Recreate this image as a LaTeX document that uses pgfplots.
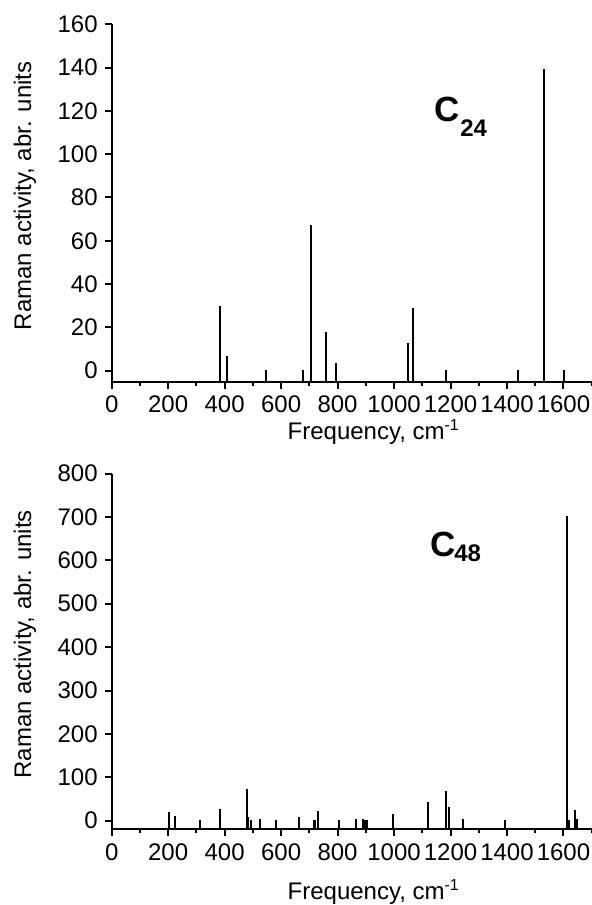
\documentclass[border=0pt]{standalone}
\usepackage{fontspec}
\setmainfont{Liberation Sans}
\usepackage{pgfplots}
\pgfplotsset{compat=1.18}
\pgfplotsset{
  ramanstyle/.style={
    scale only axis, width=240pt,
    xmin=0, xmax=1700,
    axis x line=bottom, axis y line=left,
    axis line style={-, line width=1pt, black},
    tick align=outside,
    major tick length=3.5pt, minor tick length=2pt,
    every tick/.style={line width=1pt, black},
    xtick={0,200,...,1600}, minor xtick={100,300,...,1700},
    tick label style={font=\fontsize{12}{14}\selectfont},
    /pgf/number format/assume math mode=true,
    /pgf/number format/set thousands separator={},
    unbounded coords=jump,
    every axis y label/.style={at={(axis description cs:-0.1806,0.52)}, rotate=90, anchor=center, font=\fontsize{12}{14}\selectfont},
    ylabel={Raman activity, abr. units},
    xlabel={Frequency, cm\textsuperscript{-1}},
  },
  stick/.style={black, line width=1pt, no marks},
}
\begin{document}
\begin{tikzpicture}
\begin{axis}[ramanstyle, name=top, at={(0pt,0pt)}, anchor=north west,
  height=178.6pt, ymin=-5, ymax=160, ytick={0,20,...,160},
  every axis x label/.style={at={(axis description cs:0.546,0)}, anchor=base, yshift=-29pt, font=\fontsize{12}{14}\selectfont},
]
\addplot[stick] table {
x y
384 -5
384 30
384 nan
407 -5
407 7
407 nan
548 -5
548 0.5
548 nan
678 -5
678 0.5
678 nan
705 -5
705 67.5
705 nan
759 -5
759 18
759 nan
795 -5
795 3.5
795 nan
1048 -5
1048 13
1048 nan
1066 -5
1066 29
1066 nan
1184 -5
1184 0.5
1184 nan
1440 -5
1440 0.5
1440 nan
1532 -5
1532 139.5
1532 nan
1601 -5
1601 0.5
1601 nan
};
\node[anchor=base west, inner sep=0pt, font=\fontsize{17.5}{20}\selectfont\bfseries] at (rel axis cs:0.672,0.727) {C};
\node[anchor=base west, inner sep=0pt, font=\fontsize{12}{14}\selectfont\bfseries] at (rel axis cs:0.7256,0.685) {24};
\end{axis}
\begin{axis}[ramanstyle, name=bottom, at={(0pt,-224.6pt)}, anchor=north west,
  height=177.95pt, ymin=-20, ymax=800, ytick={0,100,...,800},
  every axis x label/.style={at={(axis description cs:0.546,0)}, anchor=base, yshift=-35pt, font=\fontsize{12}{14}\selectfont},
]
\addplot[stick] table {
x y
202 -20
202 20.8
202 nan
224 -20
224 11.5
224 nan
314 -20
314 1.5
314 nan
384 -20
384 27
384 nan
478 -20
478 73
478 nan
484 -20
484 9
484 nan
492 -20
492 1.5
492 nan
527 -20
527 4
527 nan
581 -20
581 1
581 nan
663 -20
663 8.5
663 nan
717 -20
717 1.5
717 nan
721 -20
721 1.5
721 nan
729.5 -20
729.5 22
729.5 nan
805 -20
805 1
805 nan
867 -20
867 4.6
867 nan
891 -20
891 4.6
891 nan
898 -20
898 1.5
898 nan
905 -20
905 1.5
905 nan
995 -20
995 16.5
995 nan
1119 -20
1119 43
1119 nan
1183 -20
1183 69.5
1183 nan
1195 -20
1195 32.5
1195 nan
1243 -20
1243 4.6
1243 nan
1393 -20
1393 1.5
1393 nan
1613 -20
1613 702
1613 nan
1620 -20
1620 1.5
1620 nan
1641 -20
1641 24.6
1641 nan
1648 -20
1648 3
1648 nan
};
\node[anchor=base west, inner sep=0pt, font=\fontsize{17.5}{20}\selectfont\bfseries] at (rel axis cs:0.663,0.766) {C};
\node[anchor=base west, inner sep=0pt, font=\fontsize{12}{14}\selectfont\bfseries] at (rel axis cs:0.713,0.752) {48};
\end{axis}
\pgfresetboundingbox
\path (-55.85pt,12.15pt) rectangle (240.15pt,-440.35pt);
\end{tikzpicture}
\end{document}
